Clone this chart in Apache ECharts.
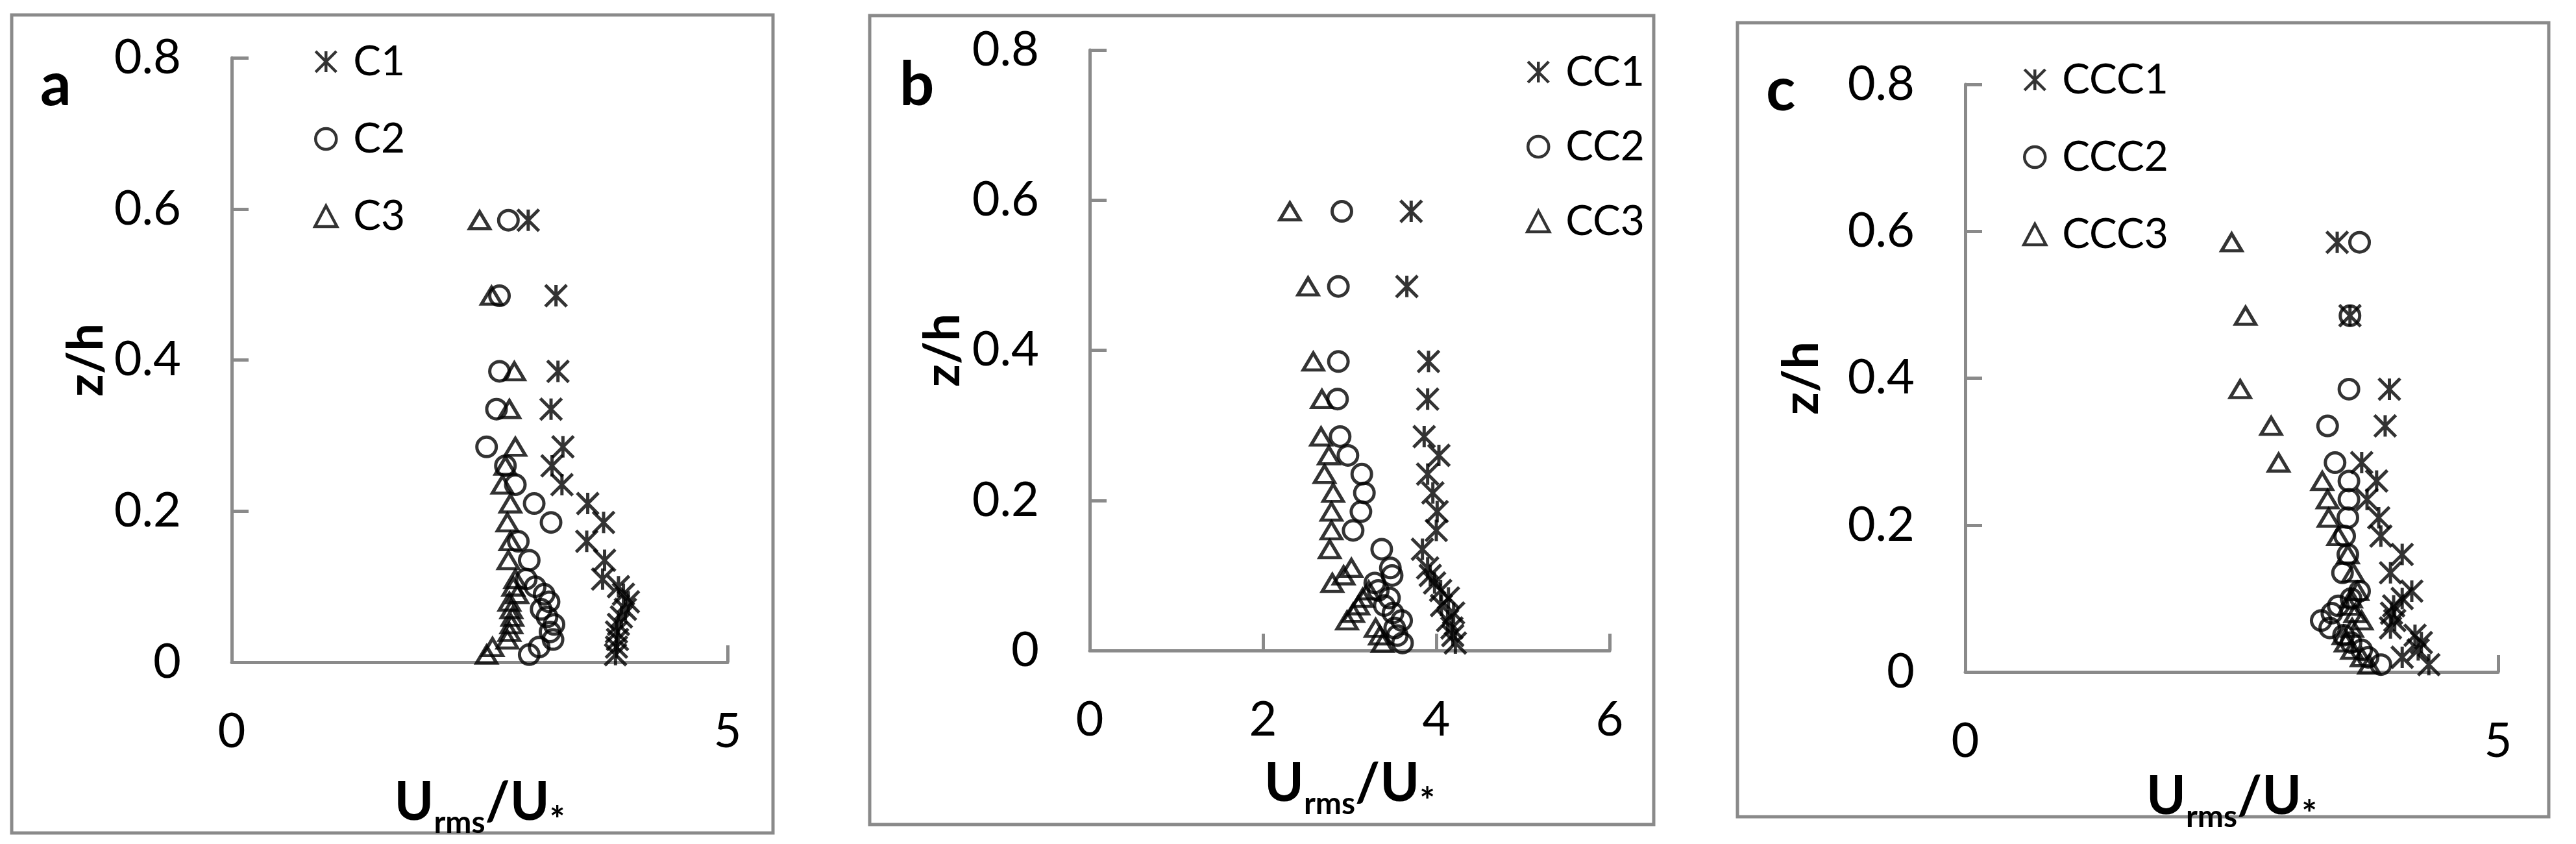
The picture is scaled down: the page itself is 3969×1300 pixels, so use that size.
<!DOCTYPE html>
<html>
<head>
<meta charset="utf-8">
<title>Urms/U* profiles</title>
<script src="https://cdn.jsdelivr.net/npm/echarts/dist/echarts.min.js"></script>
<style>
  html, body { margin: 0; padding: 0; background: #fff; }
  #chart { width: 3969px; height: 1300px; }
</style>
</head>
<body>
<div id="chart"></div>
<script>
// measurement heights z/h, shared by every series of a panel
const zLevels = [0.585, 0.485, 0.385, 0.335, 0.285, 0.26, 0.235, 0.21, 0.185, 0.16, 0.135,
                 0.11, 0.10, 0.09, 0.08, 0.07, 0.06, 0.05, 0.04, 0.03, 0.02, 0.01]

// panel a
const C1 = [2.99, 3.27, 3.29, 3.22, 3.34, 3.23, 3.33, 3.59, 3.75, 3.58, 3.76, 3.74, 3.90, 3.95, 4.00, 3.97, 3.93, 3.90, 3.88, 3.89, 3.88, 3.87]
const C2 = [2.79, 2.70, 2.70, 2.67, 2.57, 2.76, 2.86, 3.05, 3.22, 2.89, 3.00, 2.97, 3.06, 3.15, 3.20, 3.12, 3.18, 3.25, 3.21, 3.24, 3.10, 3.00]
const C3 = [2.50, 2.62, 2.85, 2.80, 2.86, 2.76, 2.73, 2.81, 2.78, 2.81, 2.79, 2.86, 2.84, 2.88, 2.80, 2.82, 2.83, 2.82, 2.80, 2.78, 2.63, 2.57]
// panel b
const CC1 = [3.71, 3.66, 3.91, 3.90, 3.86, 4.03, 3.90, 3.96, 4.01, 4.00, 3.84, 3.90, 3.93, 3.98, 4.05, 4.14, 4.06, 4.20, 4.13, 4.18, 4.19, 4.22]
const CC2 = [2.91, 2.87, 2.87, 2.86, 2.89, 2.98, 3.14, 3.17, 3.13, 3.04, 3.37, 3.47, 3.49, 3.29, 3.33, 3.46, 3.40, 3.50, 3.60, 3.52, 3.55, 3.61]
const CC3 = [2.31, 2.52, 2.58, 2.68, 2.67, 2.76, 2.71, 2.81, 2.79, 2.79, 2.77, 3.02, 2.93, 2.80, 3.22, 3.15, 3.10, 3.04, 2.97, 3.30, 3.35, 3.38]
// panel c
const CCC1 = [3.49, 3.61, 3.98, 3.94, 3.72, 3.86, 3.77, 3.88, 3.90, 4.10, 3.99, 4.19, 4.10, 4.02, 4.00, 4.03, 3.99, 4.22, 4.28, 4.25, 4.10, 4.35]
const CCC2 = [3.70, 3.61, 3.60, 3.40, 3.47, 3.60, 3.60, 3.59, 3.56, 3.59, 3.54, 3.70, 3.62, 3.50, 3.44, 3.34, 3.42, 3.55, 3.62, 3.72, 3.78, 3.90]
const CCC3 = [2.50, 2.63, 2.58, 2.87, 2.94, 3.35, 3.40, 3.41, 3.50, 3.59, 3.64, 3.68, 3.62, 3.60, 3.66, 3.72, 3.63, 3.55, 3.57, 3.63, 3.72, 3.79]

const panelLetters = ['a', 'b', 'c']
const xMax = [5, 6, 5]
const xStep = [5, 2, 5]

const grey = '#8a8a8a'
const font = 'Lato'
const starPath = 'path://M0 0L100 100M100 0L0 100M50 0L50 100'

let myChart = echarts.init(document.getElementById('chart'))

function pts(xs) {
  return xs.map((x, i) => [x, zLevels[i]])
}

const grids = [
  { left: 357, top: 89, width: 764, height: 931 },
  { left: 1679, top: 77, width: 801, height: 925 },
  { left: 3028, top: 130, width: 821, height: 905 }
]
const xNameGap = [176, 165, 152]
const yNameGap = [178, 188, 214]

const axisLine = { lineStyle: { color: grey, width: 5 } }
const axisTick = { inside: true, length: 26, lineStyle: { color: grey, width: 5 } }

const xAxes = grids.map((g, i) => ({
  type: 'value', gridIndex: i, min: 0, max: xMax[i], interval: xStep[i],
  axisLine: axisLine, axisTick: axisTick, splitLine: { show: false },
  axisLabel: { fontFamily: font, fontSize: 74, color: '#000', margin: 70 },
  name: '{b|U}{s|rms}{b|/U}{t|*}', nameLocation: 'middle', nameGap: xNameGap[i],
  nameTextStyle: {
    rich: {
      b: { fontFamily: font, fontSize: 82, fontWeight: 'bold', color: '#000', verticalAlign: 'top', padding: [0, 0, 14, 0] },
      s: { fontFamily: font, fontSize: 48, fontWeight: 'bold', color: '#000', verticalAlign: 'bottom' },
      t: { fontFamily: font, fontSize: 56, fontWeight: 'bold', color: '#000', verticalAlign: 'bottom' }
    }
  }
}))

const yAxes = grids.map((g, i) => ({
  type: 'value', gridIndex: i, min: 0, max: 0.8, interval: 0.2,
  axisLine: axisLine, axisTick: axisTick, splitLine: { show: false },
  axisLabel: { fontFamily: font, fontSize: 74, color: '#000', margin: 78 },
  name: 'z/h', nameLocation: 'middle', nameGap: yNameGap[i],
  nameTextStyle: { fontFamily: font, fontSize: 76, fontWeight: 'bold', color: '#000' }
}))

const markerStyle = { color: 'transparent', borderColor: '#000', borderWidth: 5 }

function scatter(name, idx, symbol, size, xs) {
  return {
    name: name, type: 'scatter', xAxisIndex: idx, yAxisIndex: idx,
    symbol: symbol, symbolSize: size, itemStyle: markerStyle,
    data: pts(xs)
  }
}

const series = [
  scatter('C1', 0, starPath, 33, C1),
  scatter('C2', 0, 'circle', 30, C2),
  scatter('C3', 0, 'triangle', [31, 26], C3),
  scatter('CC1', 1, starPath, 33, CC1),
  scatter('CC2', 1, 'circle', 30, CC2),
  scatter('CC3', 1, 'triangle', [31, 26], CC3),
  scatter('CCC1', 2, starPath, 33, CCC1),
  scatter('CCC2', 2, 'circle', 30, CCC2),
  scatter('CCC3', 2, 'triangle', [31, 26], CCC3)
]

// legend marker centres sit 17px right of "left"; text begins about 42px right of the centre
const legendPos = [
  { left: 478, top: 58, gap: 55 },
  { left: 2346, top: 74, gap: 51 },
  { left: 3111, top: 86, gap: 55 }
]
const legendNames = [['C1', 'C2', 'C3'], ['CC1', 'CC2', 'CC3'], ['CCC1', 'CCC2', 'CCC3']]

const legends = legendPos.map((p, i) => ({
  data: legendNames[i], orient: 'vertical', left: p.left, top: p.top, itemGap: p.gap,
  itemWidth: 34, itemHeight: 32, selectedMode: false,
  itemStyle: { borderWidth: 4.5 },
  textStyle: { fontFamily: font, fontSize: 64, color: '#000', padding: [0, 0, 0, 20] }
}))

// panel frames and letters
const frames = [
  { x: 18, y: 23, w: 1173, h: 1260 },
  { x: 1340, y: 24, w: 1208, h: 1246 },
  { x: 2677, y: 35, w: 1250, h: 1223 }
]
const letterPos = [[62, 132], [1386, 132], [2721, 140]]

const graphic = []
frames.forEach(f => {
  graphic.push({ type: 'rect', shape: { x: f.x, y: f.y, width: f.w, height: f.h },
    style: { fill: 'none', stroke: grey, lineWidth: 5 }, silent: true })
})
letterPos.forEach((p, i) => {
  graphic.push({ type: 'text', x: p[0], y: p[1],
    style: { text: panelLetters[i], font: 'bold 94px Lato', fill: '#000', verticalAlign: 'middle' } })
})

myChart.setOption({
  animation: false,
  backgroundColor: '#fff',
  grid: grids,
  xAxis: xAxes,
  yAxis: yAxes,
  legend: legends,
  series: series,
  graphic: graphic
})
</script>
</body>
</html>
